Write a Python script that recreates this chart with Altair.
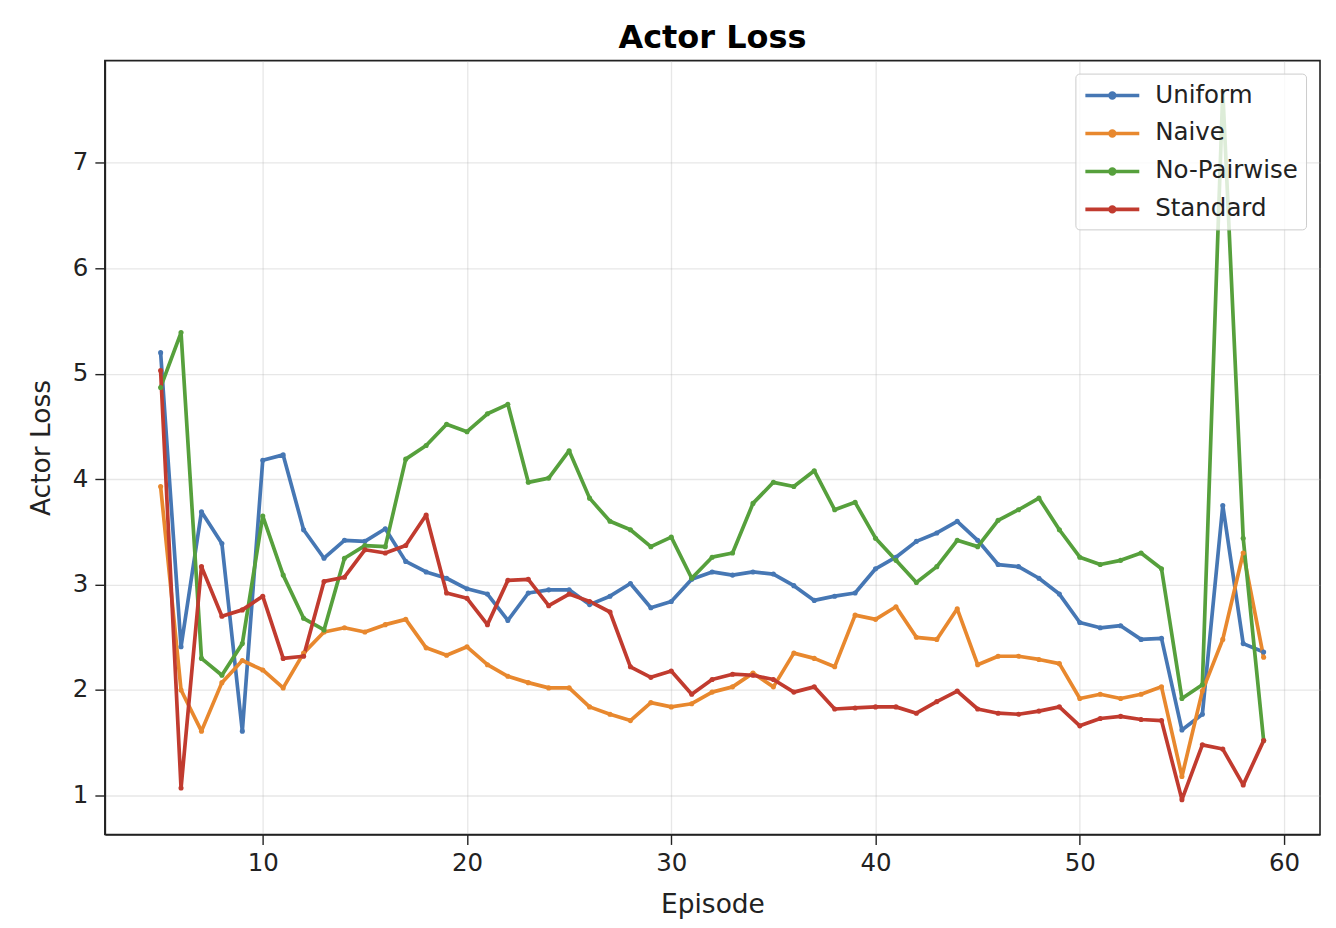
import altair as alt
import pandas as pd

episodes = list(range(5, 60))

uniform = [5.20, 2.41, 3.69, 3.39, 1.61, 4.18, 4.23, 3.52, 3.25, 3.42,
           3.41, 3.53, 3.22, 3.12, 3.06, 2.96, 2.91, 2.66, 2.92, 2.95,
           2.95, 2.81, 2.89, 3.01, 2.78, 2.84, 3.05, 3.12, 3.09, 3.12,
           3.10, 2.99, 2.85, 2.89, 2.92, 3.15, 3.26, 3.41, 3.49, 3.60,
           3.42, 3.19, 3.17, 3.06, 2.91, 2.64, 2.59, 2.61, 2.48, 2.49,
           1.62, 1.77, 3.75, 2.44, 2.36]

naive = [3.93, 2.00, 1.61, 2.07, 2.28, 2.19, 2.02, 2.35, 2.55, 2.59,
         2.55, 2.62, 2.67, 2.40, 2.33, 2.41, 2.24, 2.13, 2.07, 2.02,
         2.02, 1.84, 1.77, 1.71, 1.88, 1.84, 1.87, 1.98, 2.03, 2.16,
         2.03, 2.35, 2.30, 2.22, 2.71, 2.67, 2.79, 2.50, 2.48, 2.77,
         2.24, 2.32, 2.32, 2.29, 2.25, 1.92, 1.96, 1.92, 1.96, 2.03,
         1.18, 1.99, 2.48, 3.30, 2.31]

no_pairwise = [4.87, 5.39, 2.30, 2.14, 2.44, 3.65, 3.09, 2.68, 2.57, 3.25,
               3.37, 3.36, 4.19, 4.32, 4.52, 4.45, 4.62, 4.71, 3.97, 4.01,
               4.27, 3.82, 3.60, 3.52, 3.36, 3.45, 3.06, 3.26, 3.30, 3.77,
               3.97, 3.93, 4.08, 3.71, 3.78, 3.44, 3.23, 3.02, 3.17, 3.42,
               3.36, 3.61, 3.71, 3.82, 3.52, 3.26, 3.19, 3.23, 3.30, 3.15,
               1.92, 2.05, 7.68, 3.44, 1.52]

standard = [5.03, 1.07, 3.17, 2.70, 2.76, 2.89, 2.30, 2.32, 3.03, 3.07,
            3.33, 3.30, 3.37, 3.66, 2.92, 2.87, 2.62, 3.04, 3.05, 2.80,
            2.91, 2.84, 2.74, 2.22, 2.12, 2.18, 1.96, 2.10, 2.15, 2.14,
            2.10, 1.98, 2.03, 1.82, 1.83, 1.84, 1.84, 1.78, 1.89, 1.99,
            1.82, 1.78, 1.77, 1.80, 1.84, 1.66, 1.73, 1.75, 1.72, 1.71,
            0.96, 1.48, 1.44, 1.10, 1.52]

series_names = ["Uniform", "Naive", "No-Pairwise", "Standard"]
series_values = [uniform, naive, no_pairwise, standard]
colors = ["#4677b4", "#e8882e", "#56a03c", "#c13b2f"]

x_ticks = [10, 20, 30, 40, 50, 60]
y_ticks = [1, 2, 3, 4, 5, 6, 7]

rows = []
for k, (name, vals) in enumerate(zip(series_names, series_values)):
    for e, v in zip(episodes, vals):
        rows.append({"Episode": e, "Actor Loss": v, "Series": name, "k": k})
df = pd.DataFrame(rows)

FONT = "DejaVu Sans"

x_enc = alt.X("Episode:Q",
              scale=alt.Scale(domain=[2.27, 61.76], nice=False, zero=False),
              axis=alt.Axis(values=x_ticks, title="Episode", format="d"))
y_enc = alt.Y("Actor Loss:Q",
              scale=alt.Scale(domain=[0.63, 7.97], nice=False, zero=False),
              axis=alt.Axis(values=y_ticks, title="Actor Loss", format="d"))

color_enc = alt.Color(
    "Series:N",
    scale=alt.Scale(domain=series_names, range=colors),
    legend=alt.Legend(
        title=None,
        orient="none",
        legendX=972,
        legendY=13,
        symbolType="M-2.25,0H2.25M0.2,0A0.2,0.2,0,1,1,-0.2,0A0.2,0.2,0,1,1,0.2,0",
        symbolSize=576,
        symbolStrokeWidth=3.6,
        symbolOffset=15,
        labelOffset=29,
        labelFont=FONT,
        labelFontSize=24.5,
        labelColor="#222222",
        rowPadding=12,
        padding=8,
        fillColor="rgba(255,255,255,0.8)",
        strokeColor="#cccccc",
        cornerRadius=4,
    ),
)

lines = alt.Chart(df).mark_line(strokeWidth=3.7, strokeJoin="round").encode(
    x=x_enc, y=y_enc, color=color_enc, detail="Series:N", order="Episode:Q"
)
points = alt.Chart(df).mark_circle(size=26, opacity=1).encode(
    x="Episode:Q", y="Actor Loss:Q",
    color=alt.Color("Series:N", scale=alt.Scale(domain=series_names, range=colors), legend=None),
)

chart = alt.layer(lines, points).properties(
    width=1217,
    height=775,
    title=alt.Title("Actor Loss", font=FONT, fontSize=32, fontWeight="bold",
                    color="#000000", anchor="middle", baseline="alphabetic", offset=17, dy=36),
    autosize=alt.AutoSizeParams(type="none"),
    padding={"left": 97, "top": 52, "right": 8, "bottom": 92},
).configure_view(
    stroke="#222222", strokeWidth=1.6
).configure_axis(
    labelFont=FONT, labelFontSize=24.5, labelColor="#222222",
    titleFont=FONT, titleFontSize=26.5, titleColor="#222222", titleFontWeight="normal",
    domainColor="#222222", domainWidth=1.6,
    tickColor="#222222", tickWidth=1.4, tickSize=10,
    grid=True, gridColor="#b0b0b0", gridOpacity=0.3, gridWidth=1.3,
    labelPadding=7,
).configure_axisY(
    titlePadding=17
).configure_axisX(
    titlePadding=17
)

chart.save("out.html", embed_options={"renderer": "svg", "actions": False})
